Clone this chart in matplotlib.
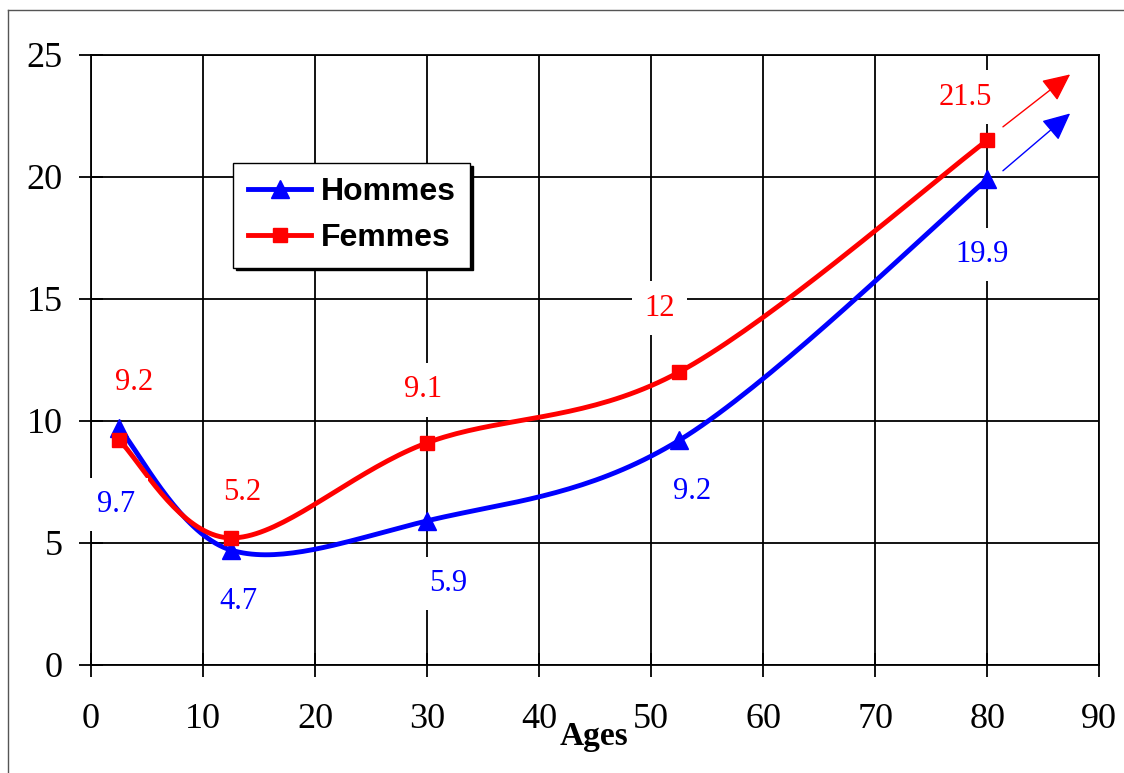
import numpy as np
import matplotlib
matplotlib.use("Agg")
import matplotlib.pyplot as plt
from matplotlib.lines import Line2D

# data
ages = [2.5, 12.5, 30, 52.5, 80]
hommes = [9.7, 4.7, 5.9, 9.2, 19.9]
femmes = [9.2, 5.2, 9.1, 12.0, 21.5]
hommes_labels = ["9.7", "4.7", "5.9", "9.2", "19.9"]
femmes_labels = ["9.2", "5.2", "9.1", "12", "21.5"]
x_ticks = list(range(0, 91, 10))
y_ticks = list(range(0, 26, 5))

# label offsets (points) from each marker
hommes_off = [(-2, -55), (5, -37), (15, -45), (9, -37), (-4, -54)]
femmes_off = [(11, 42), (8, 33), (-3, 38), (-14, 46), (-16, 31)]

BLUE = "#0000FF"
RED = "#FF0000"
SERIF = "Liberation Serif"


def smooth(x, y, n=40):
    # Excel-style smoothed line: cubic Bezier with Catmull-Rom control points
    p = np.column_stack([x, y]).astype(float)
    ext = np.vstack([p[0], p, p[-1]])
    out = []
    t = np.linspace(0, 1, n)[:, None]
    for i in range(len(p) - 1):
        p0, p3 = ext[i + 1], ext[i + 2]
        c1 = p0 + (ext[i + 2] - ext[i]) / 6
        c2 = p3 - (ext[i + 3] - ext[i + 1]) / 6
        seg = ((1 - t) ** 3) * p0 + 3 * ((1 - t) ** 2) * t * c1 + 3 * (1 - t) * t ** 2 * c2 + t ** 3 * p3
        out.append(seg if i == 0 else seg[1:])
    out = np.vstack(out)
    return out[:, 0], out[:, 1]


fig = plt.figure(figsize=(11.24, 7.73), dpi=100)
ax = fig.add_axes([0.081, 0.140, 0.897, 0.789])

for y, c, mk, ms, name in [(hommes, BLUE, "^", 13, "Hommes"), (femmes, RED, "s", 10.5, "Femmes")]:
    sx, sy = smooth(ages, y)
    ax.plot(sx, sy, color=c, lw=3.5, zorder=3, solid_capstyle="butt")
    ax.plot(ages, y, ls="none", marker=mk, ms=ms, color=c, zorder=3)
    # legend proxy
    ax.plot([], [], color=c, lw=3.5, marker=mk, ms=ms, label=name)

for y, labs, offs, c in [(hommes, hommes_labels, hommes_off, BLUE),
                         (femmes, femmes_labels, femmes_off, RED)]:
    for xi, yi, lab, off in zip(ages, y, labs, offs):
        ax.annotate(lab, (xi, yi), xytext=off, textcoords="offset points",
                    ha="center", va="center", color=c, fontsize=22, family=SERIF,
                    bbox=dict(boxstyle="square,pad=0.4", fc="white", ec="none"),
                    zorder=4)

# arrows past the last point
for y, c, lift in [(hommes, BLUE, 0.35), (femmes, RED, 0.55)]:
    x0, y0 = ages[-1], y[-1]
    ax.annotate("", xy=(x0 + 7.4, y0 + 2.7), xytext=(x0 + 1.4, y0 + lift),
                arrowprops=dict(arrowstyle="-|>,head_length=0.85,head_width=0.4", color=c,
                                lw=1, mutation_scale=20, shrinkA=0, shrinkB=0),
                zorder=3)

ax.set_xlim(0, 90)
ax.set_ylim(0, 25)
ax.set_xticks(x_ticks)
ax.set_yticks(y_ticks)
ax.grid(True, color="black", lw=1.3, zorder=0)
ax.set_axisbelow(True)
for s in ax.spines.values():
    s.set_color("black")
    s.set_linewidth(1.3)
    s.set_zorder(1)
ax.tick_params(axis="both", direction="inout", length=17, width=1.3, labelsize=26)
ax.tick_params(axis="x", pad=19)
ax.tick_params(axis="y", pad=12)
for lab in ax.get_xticklabels() + ax.get_yticklabels():
    lab.set_family(SERIF)

ax.set_xlabel("Ages", family=SERIF, fontweight="bold", fontsize=24, va="top")
ax.xaxis.set_label_coords(0.499, -0.092)

leg = ax.legend(loc="upper left", bbox_to_anchor=(0.141, 0.823), borderaxespad=0,
                fancybox=False, shadow={"color": "black", "alpha": 1},
                prop={"family": "Liberation Sans", "weight": "bold", "size": 23},
                handlelength=2.0, handletextpad=0.3, labelspacing=0.5,
                borderpad=0.45, framealpha=1)
leg.get_frame().set_edgecolor("black")
leg.get_frame().set_linewidth(1)
leg.set_zorder(5)

# outer frame (left and top edges visible)
fig.add_artist(Line2D([8 / 1124, 8 / 1124], [0, 1 - 10 / 773], color="#555555", lw=1))
fig.add_artist(Line2D([8 / 1124, 1], [1 - 10 / 773, 1 - 10 / 773], color="#555555", lw=1))

fig.savefig("out.png", dpi=100)
